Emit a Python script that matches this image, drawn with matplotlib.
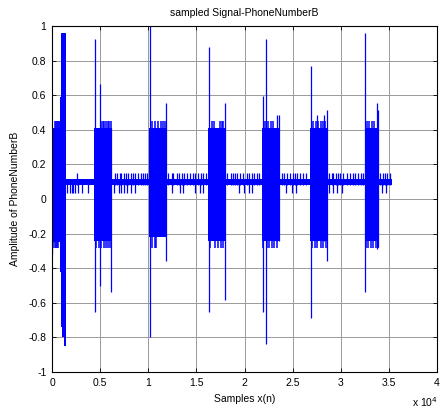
import numpy as np
import matplotlib
matplotlib.use('Agg')
from matplotlib import pyplot as plt

plt.rcParams['font.family'] = ['Liberation Sans', 'DejaVu Sans']

# tone bursts: sample range and body envelope
burst_start = [0, 4364, 10078, 16240, 21785, 26805, 32520]
burst_end = [1420, 6234, 11948, 17974, 23688, 28605, 33974]
burst_top = [0.41, 0.41, 0.41, 0.41, 0.41, 0.41, 0.41]
burst_bottom = [-0.25, -0.24, -0.22, -0.24, -0.24, -0.24, -0.24]

# loud start of the first burst
seg_start = [831, 935, 1074, 1212]
seg_end = [935, 1074, 1212, 1420]
seg_low = [-0.42, -0.74, -0.80, -0.85]
seg_high = [0.59, 0.96, 0.96, 0.96]

# teeth on the burst edges
top_teeth = [300, 420, 540, 650, 760, 870,
             5080, 5250, 5420, 5600, 5780, 5950, 6130,
             10390, 10670, 11013, 11294, 11533, 11772,
             16593, 16832, 17455, 17632, 17798,
             22131, 22474, 22723, 22993,
             27149, 27430, 27669, 27918, 28126, 28365,
             32697, 32967, 33216, 33455]
bottom_teeth = [150, 280, 400, 520, 640,
                4605, 4855, 5125, 5405, 5645, 5820, 5995,
                10390, 10670, 10850,
                16416, 16936, 17278, 17528, 17798,
                21953, 22307, 22577, 22827, 23066, 23346,
                26982, 27325, 27565, 27918, 28188, 28469,
                32624, 32863, 33112, 33383, 33663, 33902]

# isolated peaks
spike_x = [30, 4433, 4987, 6095, 10147, 11879, 16280, 17940, 21888, 22234,
           23400, 23550, 26909, 27565, 28261, 28540, 32554, 33740, 33870]
spike_low = [-0.32, -0.651, -0.501, -0.54, -0.796, -0.358, -0.651, -0.584, -0.651, -0.84,
             -0.24, -0.24, -0.686, -0.24, -0.24, -0.358, -0.54, -0.29, -0.28]
spike_high = [0.41, 0.925, 0.665, 0.41, 1.0, 0.553, 0.88, 0.553, 0.597, 0.925,
              0.486, 0.486, 0.771, 0.486, 0.486, 0.514, 0.958, 0.553, 0.514]

# quiet baseline between bursts
base_end = 35290
base_low = 0.08
base_high = 0.115
up_ticks = [2563, 6512, 6789, 7036, 7202, 7481, 7720, 7896, 8177, 8416, 8654, 8936,
            9216, 9454, 9693, 9901, 12086, 12437, 12603, 12957, 13227, 13476, 13715,
            13996, 14338, 14619, 14858, 15201, 15450, 15720, 16000, 18150, 18567,
            18774, 19013, 19253, 19533, 19813, 20229, 20499, 20749, 20988, 21268,
            21538, 23866, 24105, 24385, 24728, 25009, 25248, 25487, 25767, 26110,
            26391, 28812, 29062, 29228, 29508, 29747, 29923, 30204, 30620, 30962,
            31305, 31482, 31825, 32105, 32344, 34079, 34360, 34599, 34838, 35100]
down_ticks = [1524, 1870, 2043, 2216, 2390, 2736, 3082, 3706, 6442, 6930, 7202,
              7481, 7824, 8239, 8592, 12437, 13299, 13642, 14858, 15377, 15720,
              19460, 19949, 20499, 20749, 24313, 24905, 25352, 28812, 29165,
              29643, 30100, 34256, 34703]

xtick_vals = [0, 5000, 10000, 15000, 20000, 25000, 30000, 35000, 40000]
xtick_labels = ['0', '0.5', '1', '1.5', '2', '2.5', '3', '3.5', '4']
ytick_vals = [-1, -0.8, -0.6, -0.4, -0.2, 0, 0.2, 0.4, 0.6, 0.8, 1]
ytick_labels = ['-1', '-0.8', '-0.6', '-0.4', '-0.2', '0', '0.2', '0.4', '0.6', '0.8', '1']


def draw_signal():
  blue = '#0000ff'
  fig = plt.figure(figsize=(4.41, 4.16), dpi=100)
  ax = fig.add_axes([52 / 441, 44 / 416, 385 / 441, 346 / 416])

  ax.fill_between([0, base_end], base_low, base_high, color=blue, lw=0)
  ax.vlines(up_ticks, base_low, 0.15, color=blue, lw=0.9)
  ax.vlines(down_ticks, 0.035, base_high, color=blue, lw=0.9)

  for s, e, lo, hi in zip(burst_start, burst_end, burst_bottom, burst_top):
    ax.fill_between([s, e], lo, hi, color=blue, lw=0)
  for s, e, lo, hi in zip(seg_start, seg_end, seg_low, seg_high):
    ax.fill_between([s, e], lo, hi, color=blue, lw=0)
  ax.vlines(top_teeth, 0.3, 0.45, color=blue, lw=1.1)
  ax.vlines(bottom_teeth, -0.285, -0.1, color=blue, lw=1.1)
  ax.vlines(spike_x, spike_low, spike_high, color=blue, lw=0.9)

  ax.set_xlim(0, 40000)
  ax.set_ylim(-1, 1)
  ax.set_xticks(xtick_vals)
  ax.set_xticklabels(xtick_labels)
  ax.set_yticks(ytick_vals)
  ax.set_yticklabels(ytick_labels)
  ax.tick_params(direction='in', length=3, width=0.6, labelsize=7.5,
                 top=True, right=True, pad=4)
  ax.grid(True, color='#999999', lw=0.7, ls='-')
  ax.set_axisbelow(True)
  for sp in ax.spines.values():
    sp.set_linewidth(0.8)

  ax.set_title('sampled Signal-PhoneNumberB', fontsize=7.5, pad=7)
  ax.set_xlabel('Samples x(n)', fontsize=7.5, labelpad=5)
  ax.set_ylabel('Amplitude of PhoneNumberB', fontsize=7.5, labelpad=6)
  ax.text(0.935, -0.068, 'x 10$^{4}$', transform=ax.transAxes, fontsize=7.5,
          va='top', ha='left')

  fig.savefig('out.png', dpi=100)


draw_signal()
